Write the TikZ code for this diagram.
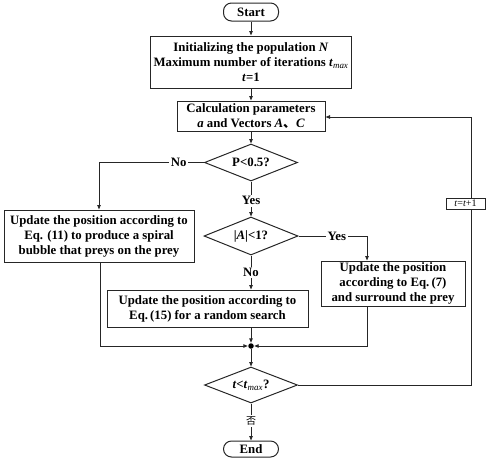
\documentclass[tikz,border=0pt]{standalone}
\usepackage{fontspec}
\setmainfont{Liberation Serif}
\newfontfamily\cjk{Noto Sans CJK SC}
\usetikzlibrary{shapes.geometric,arrows.meta}
\begin{document}
\begin{tikzpicture}[x=1pt,y=-1pt,
  font=\bfseries\fontsize{12.8}{15}\selectfont,
  line width=0.9pt, draw=black!85,
  arr/.style={-{Triangle[length=4.5pt,width=3.5pt]}},
  boxnode/.style={draw, line width=1pt, align=center, inner sep=0pt},
  term/.style={draw, line width=1pt, rounded corners=8pt, inner sep=0pt},
  dec/.style={draw, diamond, line width=1pt, aspect=2.5, inner sep=0pt},
  lab/.style={fill=white, inner sep=1.5pt}]
\useasboundingbox (0,0) rectangle (500,461);
\node[term, minimum width=55pt, minimum height=18pt] (start) at (251,12) {Start};
\node[boxnode, minimum width=201pt, minimum height=52pt] (init) at (251,62)
  {Initializing the population \textit{N}\\Maximum number of iterations \textit{t}\textsubscript{\textit{\mdseries max}}\\\textit{t}=1};
\node[boxnode, minimum width=148pt, minimum height=30pt] (calc) at (251,116)
  {Calculation parameters\\\textit{a} and Vectors \textit{A}{\cjk 、}\textit{C}};
\node[dec, minimum width=93pt, minimum height=37pt] (d1) at (251,162.5) {P<0.5?};
\node[boxnode, minimum width=190pt, minimum height=52pt] (left) at (99,236)
  {Update the position according to\\Eq. (11) to produce a spiral\\bubble that preys on the prey};
\node[dec, minimum width=94pt, minimum height=38pt] (d2) at (251,236) {|\textit{A}|<1?};
\node[boxnode, minimum width=144pt, minimum height=45pt] (right) at (393,283.5)
  {Update the position\\according to Eq.\,(7)\\and surround the prey};
\node[boxnode, minimum width=201pt, minimum height=37pt] (mid) at (207.5,308.5)
  {Update the position according to\\Eq.\,(15) for a random search};
\node[circle, fill=black, inner sep=0pt, minimum size=5.5pt] (dot) at (251,346) {};
\node[dec, minimum width=93pt, minimum height=36pt] (d3) at (251,385)
  {\textit{t}<\textit{t}\textsubscript{\textit{\mdseries max}}?};
\node[term, minimum width=55pt, minimum height=16pt] (end) at (251,449) {End};
\coordinate (lc) at (100,346);
\coordinate (rc) at (367,346);
\coordinate (loop) at (471,117);

\draw[arr] (start) -- (init);
\draw[arr] (init) -- (calc);
\draw[arr] (calc) -- (d1);
\draw[arr] (d1.west) -| node[lab, pos=0.12] {No} (left.north);
\draw[arr] (d1.south) -- node[lab, pos=0.55] {Yes} (d2.north);
\draw[arr] (d2.east) -| node[lab, pos=0.28] {Yes} (rc |- right.north);
\draw[arr] (d2.south) -- node[lab, pos=0.5] {No} (mid.north -| d2.south);
\draw[arr] (left.south -| lc) |- (dot.west);
\draw[arr] (right.south -| rc) |- (dot.east);
\draw[arr] (mid.south -| dot) -- (dot.north);
\draw[arr] (dot.south) -- (d3.north);
\draw[arr] (d3.east) -| (loop |- d3.east) -- (loop) -- (calc.east |- loop);
\node[draw, line width=0.9pt, fill=white, inner sep=0pt, minimum width=39pt, minimum height=11pt,
  font=\mdseries\fontsize{10}{12}\selectfont] (inc) at (465.5,203.5) {\textit{t}=\textit{t}+1};
\draw[arr] (d3.south) -- node[lab, pos=0.48, font=\cjk\fontsize{10}{12}\selectfont] {否} (end.north);
\end{tikzpicture}
\end{document}
